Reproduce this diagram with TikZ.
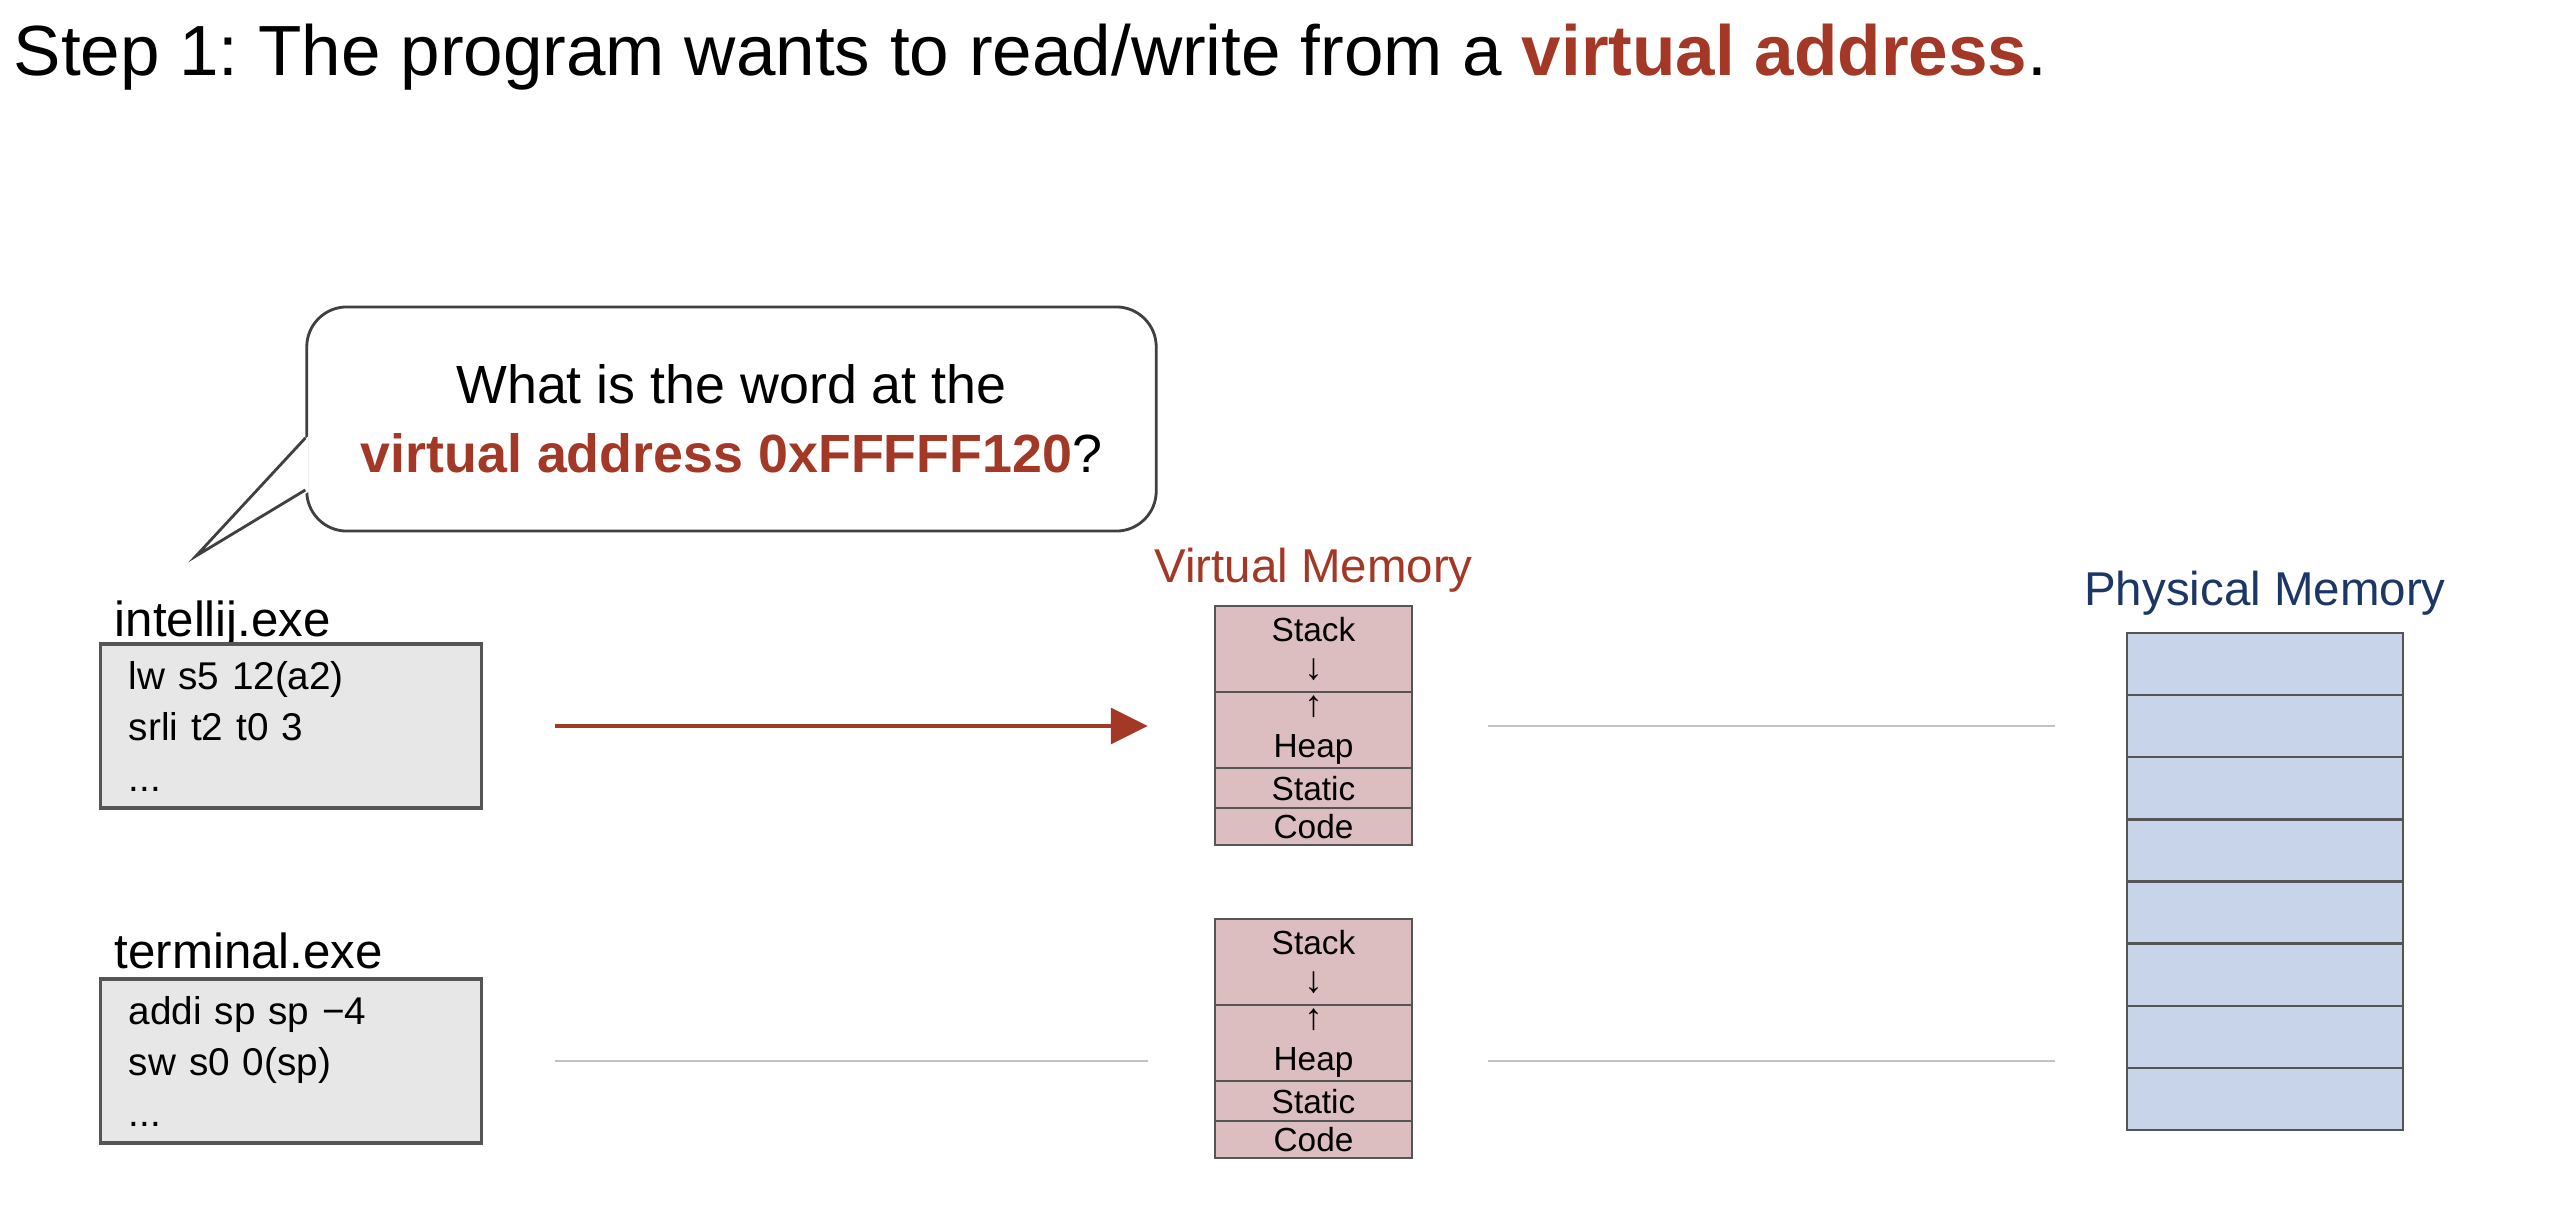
\documentclass[tikz,border=0pt]{standalone}
\usepackage{fontspec}
\setmainfont{Liberation Sans}
\usetikzlibrary{positioning,calc,arrows.meta}
\frenchspacing

\definecolor{berry}{RGB}{163,56,38}
\definecolor{navy}{RGB}{28,55,102}
\definecolor{pinkcell}{RGB}{221,190,192}
\definecolor{bluecell}{RGB}{200,212,234}
\definecolor{codegray}{RGB}{231,231,231}
\definecolor{edgegray}{RGB}{85,85,85}
\definecolor{wiregray}{RGB}{195,195,195}

\newcommand{\growdown}{{\fontsize{10.5}{11.6}\selectfont ↓}}
\newcommand{\growup}{{\fontsize{10.5}{11.6}\selectfont ↑}}

\tikzset{
  progname/.style={anchor=base west, inner sep=0pt, font=\fontsize{14}{17}\selectfont},
  codebox/.style={draw=edgegray, line width=0.9pt, fill=codegray, minimum width=3.8cm,
    minimum height=1.64cm, text width=3.24cm, inner xsep=0.28cm, align=left,
    font=\fontsize{11}{14.5}\selectfont},
  vcell/.style={draw=edgegray, line width=0.7pt, fill=pinkcell, minimum width=1.97cm,
    inner sep=0pt, outer sep=0pt, align=center, font=\fontsize{9.5}{11.6}\selectfont},
  pcell/.style={draw=edgegray, line width=0.7pt, fill=bluecell, minimum width=2.76cm,
    minimum height=0.621cm, inner sep=0pt, outer sep=0pt},
  memtitle/.style={anchor=base, inner sep=0pt, font=\fontsize{13.5}{16}\selectfont},
  bubble/.style={draw=black!75, line width=0.8pt, fill=white, rounded corners=0.4cm,
    minimum width=8.49cm, minimum height=2.24cm, align=center,
    font=\fontsize{15.3}{19.6}\selectfont},
  fwd/.style={color=berry, line width=1.4pt, -{Triangle[length=10.5pt,width=10pt]},
    shorten <=0.72cm, shorten >=0.67cm},
  wire/.style={draw=wiregray, line width=0.55pt}
}

\begin{document}
\begin{tikzpicture}[x=0.01cm, y=-0.01cm]
    \path[use as bounding box, fill=white] (0,0) rectangle (2563,1212);

    \node[anchor=base west, inner sep=0pt, font=\fontsize{20.2}{24}\selectfont] (title) at (13,75)
        {Step 1: The program wants to read/write from a \textcolor{berry}{\bfseries virtual address}.};

    % speech bubble
    \node[bubble] (ask) at (731.5,419)
        {What is the word at the\\\textcolor{berry}{\bfseries virtual address 0xFFFFF120}?};
    \coordinate (tip) at (196,556);
    \fill[white] ($(ask.west)+(3,17)$) -- (tip) -- ($(ask.west)+(3,73)$) -- cycle;
    \draw[black!75, line width=0.8pt] ($(ask.west)+(0,19)$) -- (tip) -- ($(ask.west)+(0,71)$);

    % programs
    \node[progname] (name1) at (114,636) {intellij.exe};
    \node[codebox] (prog1) at (291,726) {lw s5 12(a2)\\srli t2 t0 3\\...};
    \node[progname] (name2) at (114,968) {terminal.exe};
    \node[codebox] (prog2) at (291,1061) {addi sp sp −4\\sw s0 0(sp)\\...};

    % virtual memory
    \node[memtitle, text=berry] (vmtitle) at (1313.5,582) {Virtual Memory};
    \node[vcell, minimum height=0.86cm] (stack1) at (1313.5,649) {Stack\\[-1pt]\growdown};
    \node[vcell, minimum height=0.76cm, below=0pt of stack1] (heap1) {\growup\\Heap};
    \node[vcell, minimum height=0.40cm, below=0pt of heap1] (static1) {Static};
    \node[vcell, minimum height=0.37cm, below=0pt of static1] (code1) {Code};

    \node[vcell, minimum height=0.86cm] (stack2) at (1313.5,962) {Stack\\[-1pt]\growdown};
    \node[vcell, minimum height=0.76cm, below=0pt of stack2] (heap2) {\growup\\Heap};
    \node[vcell, minimum height=0.40cm, below=0pt of heap2] (static2) {Static};
    \node[vcell, minimum height=0.37cm, below=0pt of static2] (code2) {Code};

    % physical memory
    \node[memtitle, text=navy] (pmtitle) at (2265,605) {Physical Memory};
    \node[pcell] (pm1) at (2265,664) {};
    \node[pcell, below=0pt of pm1] (pm2) {};
    \node[pcell, below=0pt of pm2] (pm3) {};
    \node[pcell, below=0pt of pm3] (pm4) {};
    \node[pcell, below=0pt of pm4] (pm5) {};
    \node[pcell, below=0pt of pm5] (pm6) {};
    \node[pcell, below=0pt of pm6] (pm7) {};
    \node[pcell, below=0pt of pm7] (pm8) {};

    % connectors
    \draw[fwd] (prog1.east) -- (prog1.east -| heap1.west);
    \draw[wire, shorten <=0.72cm, shorten >=0.67cm] (prog2.east) -- (prog2.east -| heap2.west);
    \draw[wire, shorten <=0.76cm, shorten >=0.72cm] (heap1.east |- prog1.east) -- (prog1.east -| pm1.west);
    \draw[wire, shorten <=0.76cm, shorten >=0.72cm] (heap2.east |- prog2.east) -- (prog2.east -| pm1.west);
\end{tikzpicture}
\end{document}
